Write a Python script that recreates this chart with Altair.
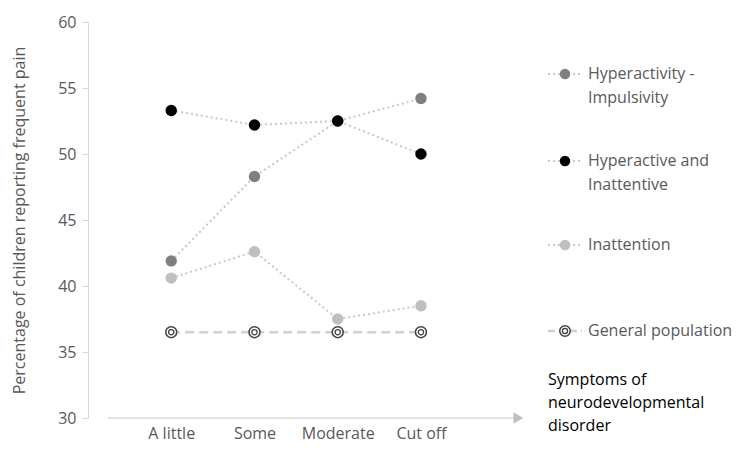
import altair as alt
import pandas as pd

categories = ["A little", "Some", "Moderate", "Cut off"]
series_names = ["Hyperactivity - Impulsivity", "Hyperactive and Inattentive", "Inattention"]
hyper_imp = [41.9, 48.3, 52.5, 54.2]
hyper_inatt = [53.3, 52.2, 52.5, 50.0]
inattention = [40.6, 42.6, 37.5, 38.5]
general_population = [36.5, 36.5, 36.5, 36.5]
y_ticks = [30, 35, 40, 45, 50, 55, 60]
series_colors = ["#7f7f7f", "#000000", "#bfbfbf"]

FONT = "Open Sans"
GREY = "#595959"
W, H = 452, 396

rows = []
for name, vals in zip(series_names, [hyper_imp, hyper_inatt, inattention]):
    for i, (c, v) in enumerate(zip(categories, vals)):
        rows.append({"series": name, "idx": i + 1, "cat": c, "value": v})
df = pd.DataFrame(rows)
gen_df = pd.DataFrame({"idx": list(range(1, len(categories) + 1)), "value": general_population})

x_scale = alt.Scale(domain=[0, 5.43], nice=False, zero=False)
y_scale = alt.Scale(domain=[30, 60], nice=False, zero=False)
color_scale = alt.Scale(domain=series_names, range=series_colors)

label_expr = ""
for i, c in enumerate(categories[:-1]):
    label_expr += f"datum.value == {i+1} ? '{c}' : "
label_expr += f"'{categories[-1]}'"

x_enc = alt.X("idx:Q", scale=x_scale,
              axis=alt.Axis(values=[1, 2, 3, 4], labelExpr=label_expr, domain=False, ticks=False,
                            grid=False, labelFontSize=16, labelColor=GREY, labelFont=FONT,
                            labelPadding=7, title=None))
y_enc = alt.Y("value:Q", scale=y_scale,
              axis=alt.Axis(values=y_ticks, labelFontSize=16, labelColor=GREY, labelFont=FONT,
                            domainColor="#d9d9d9", tickColor="#d9d9d9", tickSize=6, grid=False,
                            labelPadding=6, title="Percentage of children reporting frequent pain",
                            titleFontSize=16, titleColor=GREY, titleFont=FONT,
                            titleFontWeight="normal", titlePadding=30))

lines = alt.Chart(df).mark_line(strokeDash=[2, 3], color="#c8c8c8", strokeWidth=2).encode(
    x=x_enc, y=y_enc, detail="series:N")
points = alt.Chart(df).mark_circle(size=130, opacity=1).encode(
    x=alt.X("idx:Q", scale=x_scale), y=alt.Y("value:Q", scale=y_scale),
    color=alt.Color("series:N", scale=color_scale, legend=None))

gen_line = alt.Chart(gen_df).mark_line(strokeDash=[9, 5], color="#d0d0d0", strokeWidth=2.5).encode(
    x=alt.X("idx:Q", scale=x_scale), y=alt.Y("value:Q", scale=y_scale))
gen_outer = alt.Chart(gen_df).mark_circle(size=120, fill="white", stroke="#404040", strokeWidth=1.5, opacity=1).encode(
    x=alt.X("idx:Q", scale=x_scale), y=alt.Y("value:Q", scale=y_scale))
gen_inner = alt.Chart(gen_df).mark_circle(size=28, fill="white", stroke="#404040", strokeWidth=1.3, opacity=1).encode(
    x=alt.X("idx:Q", scale=x_scale), y=alt.Y("value:Q", scale=y_scale))

axis_df = pd.DataFrame({"x0": [0.24], "x1": [5.17], "y": [30]})
x_axis_line = alt.Chart(axis_df).mark_rule(color="#d9d9d9", strokeWidth=1.5).encode(
    x=alt.X("x0:Q", scale=x_scale), x2="x1:Q", y=alt.Y("y:Q", scale=y_scale))
arrow = alt.Chart(axis_df).mark_point(shape="triangle-right", filled=True, color="#bfbfbf", size=130, opacity=1).encode(
    x=alt.X("x1:Q", scale=x_scale), y=alt.Y("y:Q", scale=y_scale))

one = pd.DataFrame({"a": [0]})
legend_layers = []
legend_items = [
    (["Hyperactivity -", "Impulsivity"], 52, series_colors[0], "dot"),
    (["Hyperactive and", "Inattentive"], 139, series_colors[1], "dot"),
    (["Inattention"], 223, series_colors[2], "dot"),
    (["General population"], 309, None, "dash"),
]
for lines_txt, py, col, kind in legend_items:
    if kind == "dot":
        legend_layers.append(alt.Chart(one).mark_rule(strokeDash=[2, 3], color="#c8c8c8", strokeWidth=2).encode(
            x=alt.value(460), x2=alt.value(494), y=alt.value(py)))
        legend_layers.append(alt.Chart(one).mark_circle(size=110, color=col, opacity=1).encode(
            x=alt.value(477), y=alt.value(py)))
    else:
        legend_layers.append(alt.Chart(one).mark_rule(strokeDash=[7, 4], color="#d0d0d0", strokeWidth=2.5).encode(
            x=alt.value(460), x2=alt.value(494), y=alt.value(py)))
        legend_layers.append(alt.Chart(one).mark_circle(size=110, fill="white", stroke="#404040", strokeWidth=1.5, opacity=1).encode(
            x=alt.value(477), y=alt.value(py)))
        legend_layers.append(alt.Chart(one).mark_circle(size=26, fill="white", stroke="#404040", strokeWidth=1.3, opacity=1).encode(
            x=alt.value(477), y=alt.value(py)))
    for j, t in enumerate(lines_txt):
        legend_layers.append(alt.Chart(one).mark_text(text=t, align="left", baseline="middle", fontSize=16,
                                                      font=FONT, color=GREY).encode(
            x=alt.value(500), y=alt.value(py + 24 * j)))

for j, t in enumerate(["Symptoms of", "neurodevelopmental", "disorder"]):
    legend_layers.append(alt.Chart(one).mark_text(text=t, align="left", baseline="middle", fontSize=16,
                                                  font=FONT, color="#000000").encode(
        x=alt.value(460), y=alt.value(358 + 23 * j)))

chart = alt.layer(lines, gen_line, x_axis_line, arrow, points, gen_outer, gen_inner, *legend_layers).properties(
    width=W, height=H,
    autosize=alt.AutoSizeParams(type="none"),
    padding={"left": 80, "top": 14, "right": 202, "bottom": 24},
    background="white",
).configure_view(strokeWidth=0, stroke=None)

chart.save("out.html", embed_options={"renderer": "svg", "actions": False})
